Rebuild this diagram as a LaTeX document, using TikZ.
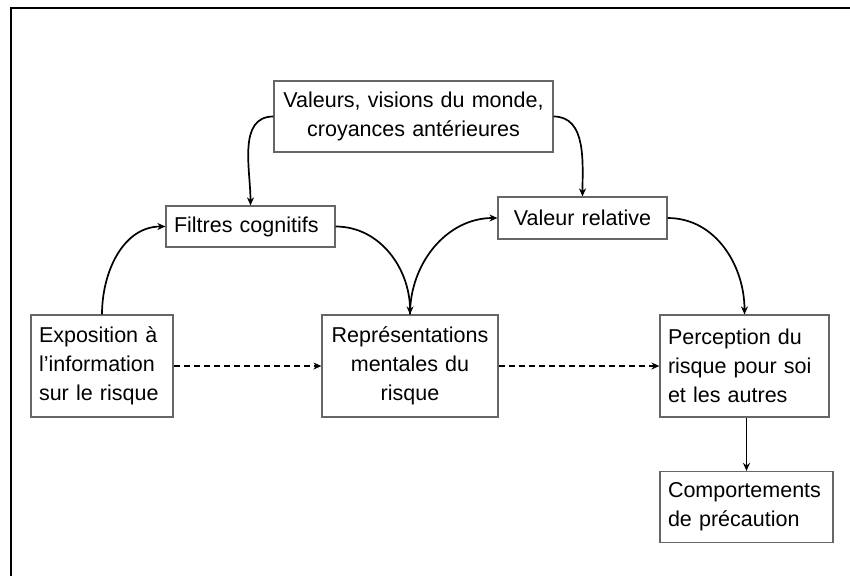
\documentclass[tikz,border=0pt]{standalone}
\usepackage{fontspec}
\setmainfont{Liberation Sans}
\usetikzlibrary{arrows.meta}
\tikzset{
    blok/.style={draw=black!60, line width=1.2pt, inner xsep=8pt, inner ysep=3pt,
        font=\fontsize{21.5}{29}\selectfont},
    fleche/.style={->, line width=1.7pt}
}
\begin{document}
\begin{tikzpicture}[>={Stealth[length=8pt, width=7pt]}, x=1pt, y=-1pt]
\useasboundingbox (0,0) rectangle (850,576);
\draw[line width=2.6pt](850,8)--(11,8)--(11,576);

\node (valeurs) at (413.5,116.5)[blok, text width=263pt, minimum height=71pt, align=center]{Valeurs, visions du monde,\\croyances antérieures};
\node (filtres) at (250.5,226.5)[blok, text width=153pt, minimum height=41pt, align=left]{Filtres cognitifs};
\node (relative) at (582.5,218)[blok, text width=153pt, minimum height=42pt, align=center]{Valeur relative};
\node (expo) at (102,366)[blok, text width=126pt, minimum height=102pt, align=left]{Exposition à\\l’information\\sur le risque};
\node (repr) at (410,366)[blok, text width=160pt, minimum height=102pt, align=center]{Représentations\\mentales du\\risque};
\node (percep) at (744.5,366)[blok, text width=153pt, minimum height=102pt, align=left]{Perception du\\risque pour soi\\et les autres};
\node (comport) at (746.5,507)[blok, text width=157pt, minimum height=71pt, align=left]{Comportements\\de précaution};

\draw[fleche](valeurs.west) to[out=180, in=90] (filtres.north);
\draw[fleche](valeurs.east) to[out=0, in=90] (relative.north);
\draw[fleche](expo.north) to[out=90, in=180] (filtres.west);
\draw[fleche](filtres.east) to[out=0, in=90] (repr.north);
\draw[fleche](repr.north) to[out=90, in=180] (relative.west);
\draw[fleche](relative.east) to[out=0, in=90] (percep.north);
\draw[fleche, dash pattern=on 6pt off 4pt](expo.east) -- (repr.west);
\draw[fleche, dash pattern=on 6pt off 4pt](repr.east) -- (percep.west);
\draw[fleche](percep.south -| comport.north) -- (comport.north);

\end{tikzpicture}
\end{document}
